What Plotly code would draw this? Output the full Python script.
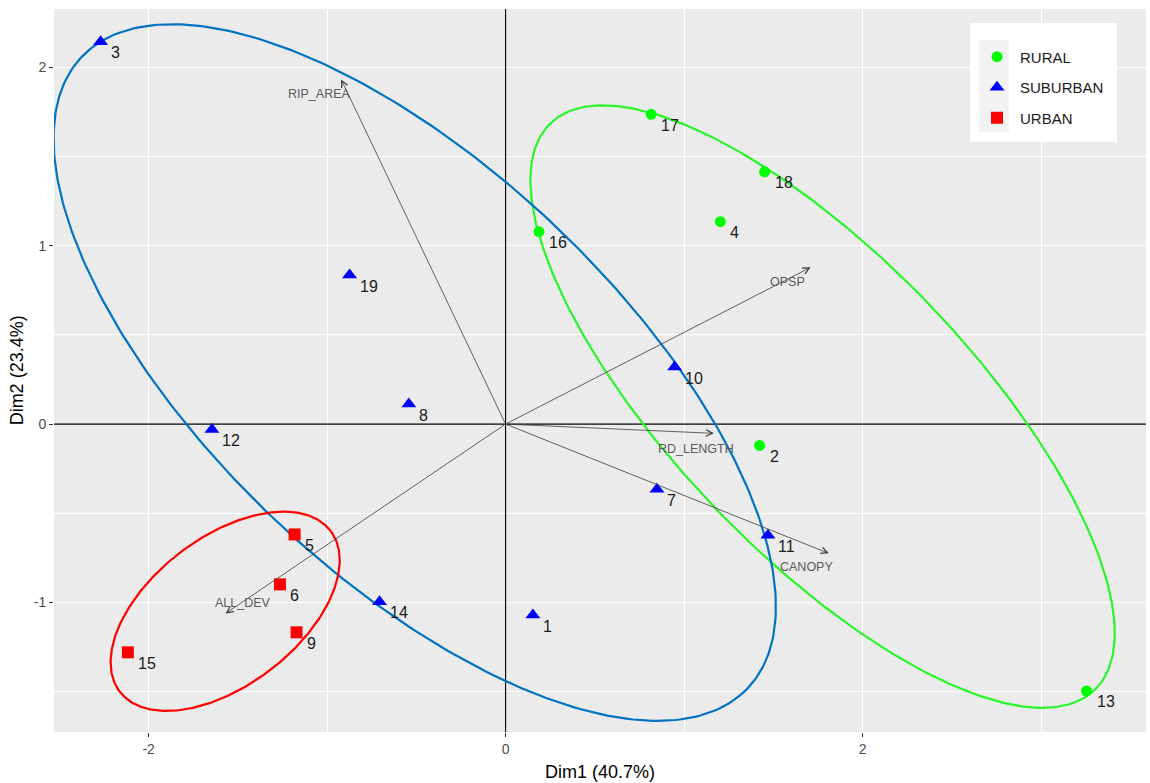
import numpy as np
import plotly.graph_objects as go

# ---------------- data ----------------
site_ids = ["1", "2", "3", "4", "5", "6", "7", "8", "9", "10",
            "11", "12", "13", "14", "15", "16", "17", "18", "19"]
dim1 = [0.153, 1.423, -2.269, 1.203, -1.182, -1.264, 0.848, -0.542, -1.171, 0.947,
        1.470, -1.645, 3.255, -0.706, -2.116, 0.187, 0.816, 1.451, -0.874]
dim2 = [-1.071, -0.120, 2.144, 1.135, -0.619, -0.899, -0.366, 0.112, -1.168, 0.320,
        -0.623, -0.030, -1.497, -0.997, -1.280, 1.079, 1.737, 1.415, 0.836]
site_group = ["SUBURBAN", "RURAL", "SUBURBAN", "RURAL", "URBAN", "URBAN", "SUBURBAN",
              "SUBURBAN", "URBAN", "SUBURBAN", "SUBURBAN", "SUBURBAN", "RURAL",
              "SUBURBAN", "URBAN", "RURAL", "RURAL", "RURAL", "SUBURBAN"]

groups = ["RURAL", "SUBURBAN", "URBAN"]

var_names = ["RIP_AREA", "OPSP", "RD_LENGTH", "CANOPY", "ALL_DEV"]
var_dim1 = [-0.921, 1.709, 1.167, 1.811, -1.569]
var_dim2 = [1.933, 0.879, -0.052, -0.725, -1.062]

# ellipse parameters per group (center, semi-axes, rotation in degrees)
ell_cx = [1.776, -0.509, -1.571]
ell_cy = [0.098, 0.289, -1.050]
ell_a = [2.202, 2.572, 0.743]
ell_b = [0.828, 1.138, 0.415]
ell_angle = [-46.2, -43.5, 37.4]

x_tick_vals = [-2, 0, 2]
x_tick_text = ["-2", "0", "2"]
y_tick_vals = [-1, 0, 1, 2]
y_tick_text = ["-1", "0", "1", "2"]
x_title = "Dim1 (40.7%)"
y_title = "Dim2 (23.4%)"

# ---------------- styles ----------------
FONT = "Liberation Sans, Arial, sans-serif"
X_RANGE = [-2.53, 3.588]
Y_RANGE = [-1.727, 2.328]
marker_color = {"RURAL": "#00FF00", "SUBURBAN": "#0000FF", "URBAN": "#FF0000"}
marker_symbol = {"RURAL": "circle", "SUBURBAN": "triangle-up", "URBAN": "square"}
marker_size = {"RURAL": 11, "SUBURBAN": 13, "URBAN": 12}
ellipse_color = {"RURAL": "#2AF52A", "SUBURBAN": "#0073C2", "URBAN": "#FF0000"}
var_label_shift = {"RIP_AREA": (-22, -15), "OPSP": (-23, -15), "RD_LENGTH": (-18, -16),
                   "CANOPY": (-22, -14), "ALL_DEV": (17, 10)}

fig = go.Figure()

# reference lines at zero (drawn as traces so they sit above the grid)
fig.add_trace(go.Scatter(x=[0, 0], y=Y_RANGE, mode="lines",
                         line=dict(color="black", width=1.1),
                         showlegend=False, hoverinfo="skip"))
fig.add_trace(go.Scatter(x=X_RANGE, y=[0, 0], mode="lines",
                         line=dict(color="black", width=1.1),
                         showlegend=False, hoverinfo="skip"))

# ellipses
t = np.linspace(0, 2 * np.pi, 361)
for i, g in enumerate(groups):
    th = np.deg2rad(ell_angle[i])
    u = ell_a[i] * np.cos(t)
    v = ell_b[i] * np.sin(t)
    ex = ell_cx[i] + u * np.cos(th) - v * np.sin(th)
    ey = ell_cy[i] + u * np.sin(th) + v * np.cos(th)
    fig.add_trace(go.Scatter(x=ex, y=ey, mode="lines",
                             line=dict(color=ellipse_color[g], width=2.2),
                             showlegend=False, hoverinfo="skip"))

# points
for g in groups:
    xs = [x for x, gg in zip(dim1, site_group) if gg == g]
    ys = [y for y, gg in zip(dim2, site_group) if gg == g]
    fig.add_trace(go.Scatter(x=xs, y=ys, mode="markers", name=g, legendgroup=g,
                             marker=dict(color=marker_color[g], symbol=marker_symbol[g],
                                         size=marker_size[g], line=dict(width=0))))

annotations = []
# variable arrows
for n, vx, vy in zip(var_names, var_dim1, var_dim2):
    annotations.append(dict(x=vx, y=vy, ax=0, ay=0, xref="x", yref="y",
                            axref="x", ayref="y", text="", showarrow=True,
                            arrowhead=5, arrowsize=1.6, arrowwidth=0.8,
                            arrowcolor="#3C3C3C"))
    sx, sy = var_label_shift[n]
    annotations.append(dict(x=vx, y=vy, xref="x", yref="y", text=n, showarrow=False,
                            xshift=sx, yshift=sy, xanchor="center", yanchor="middle",
                            font=dict(family=FONT, size=12.5, color="#5A5A5A")))

# site labels
for sid, x, y in zip(site_ids, dim1, dim2):
    annotations.append(dict(x=x, y=y, xref="x", yref="y", text=sid, showarrow=False,
                            xanchor="left", yanchor="middle", xshift=8, yshift=-11,
                            font=dict(family=FONT, size=16, color="#1A1A1A")))

# axis titles
annotations.append(dict(x=0.5, y=-0.0553, xref="paper", yref="paper", text=x_title,
                        showarrow=False, xanchor="center", yanchor="middle",
                        font=dict(family=FONT, size=18, color="#000000")))
annotations.append(dict(x=-0.034, y=0.5, xref="paper", yref="paper", text=y_title,
                        showarrow=False, xanchor="center", yanchor="middle", textangle=-90,
                        font=dict(family=FONT, size=18, color="#000000")))

shapes = [
    # legend box + key background
    dict(type="rect", xref="paper", yref="paper", x0=0.8388, x1=0.9734, y0=0.816, y1=0.9806,
         fillcolor="white", line=dict(width=0), layer="above"),
    dict(type="rect", xref="paper", yref="paper", x0=0.8471, x1=0.8746, y0=0.8299, y1=0.9571,
         fillcolor="#F2F2F2", line=dict(width=0), layer="above"),
]

axis_common = dict(showgrid=True, gridcolor="white", gridwidth=1.1, zeroline=False,
                   showline=False, ticks="outside", ticklen=4, tickwidth=1.1,
                   tickcolor="#333333", tickfont=dict(family=FONT, size=14, color="#4D4D4D"))

fig.update_layout(
    width=1150, height=783,
    margin=dict(l=54, r=4, t=9, b=51),
    paper_bgcolor="white", plot_bgcolor="#EBEBEB",
    xaxis=dict(range=X_RANGE, tickmode="array", tickvals=x_tick_vals,
               ticktext=x_tick_text,
               minor=dict(tickvals=[-1, 1, 3], showgrid=True, gridcolor="white",
                          gridwidth=0.55),
               **axis_common),
    yaxis=dict(range=Y_RANGE, tickmode="array", tickvals=y_tick_vals,
               ticktext=y_tick_text,
               minor=dict(tickvals=[-1.5, -0.5, 0.5, 1.5], showgrid=True,
                          gridcolor="white", gridwidth=0.55),
               **axis_common),
    showlegend=True,
    legend=dict(x=0.8425, y=0.9565, xanchor="left", yanchor="top",
                bgcolor="rgba(0,0,0,0)", traceorder="grouped", tracegroupgap=8,
                font=dict(family=FONT, size=15, color="#1A1A1A"), itemwidth=36),
    annotations=annotations,
    shapes=shapes,
    font=dict(family=FONT),
)

fig.write_html("out.html", config={"displayModeBar": False},
               post_script="document.body.style.margin='0';document.body.style.overflow='hidden';")
